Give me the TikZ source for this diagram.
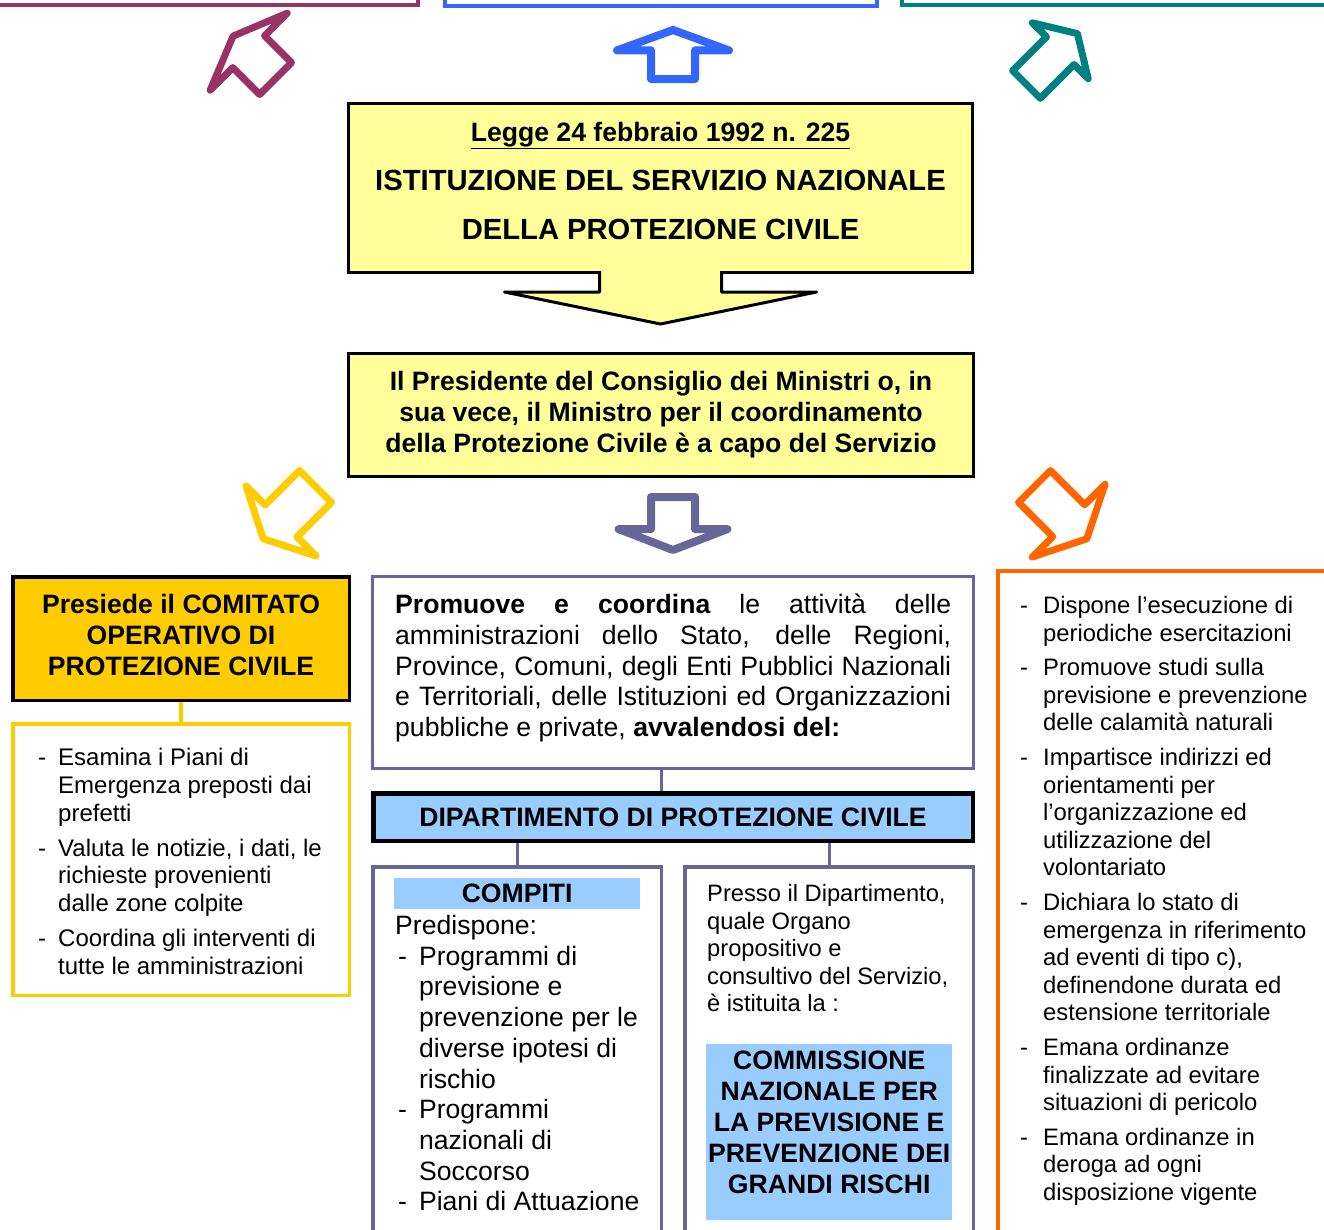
\documentclass[tikz,border=0pt]{standalone}
\usepackage{fontspec}
\setmainfont{Liberation Sans}
\usetikzlibrary{shapes.arrows,calc}

\definecolor{legfill}{HTML}{FFFF99}
\definecolor{comgold}{HTML}{FFCC00}
\definecolor{dipblue}{HTML}{99CCFF}
\definecolor{dipviolet}{HTML}{666699}
\definecolor{govorange}{HTML}{FF6600}
\definecolor{regmagenta}{HTML}{993366}
\definecolor{topblue}{HTML}{3366FF}
\definecolor{topteal}{HTML}{008080}

\begin{document}
\begin{tikzpicture}[x=1pt,y=-1pt,
  every node/.style={inner sep=0pt},
  box/.style={draw=black,line width=3pt,anchor=north west},
  topbox/.style={draw=#1,line width=4pt,anchor=south west,minimum height=60pt},
  textblk/.style={anchor=base west,inner sep=0pt},
  bigbold/.style={font=\bfseries\fontsize{26.6}{31}\selectfont},
  hollow/.style={shape=single arrow,draw=#1,fill=white,line width=7pt,line join=round,anchor=tail,inner xsep=0pt},
  link/.style={draw=dipviolet,line width=3pt}]
\fill[white] (0,0) rectangle (1324,1229);
\useasboundingbox (0,0) rectangle (1324,1229);
\clip (0,0) rectangle (1324,1229);
% Drawing the boxes cut off at the top
\node[topbox=regmagenta,minimum width=426pt] (regioni) at (-10,7) {};
\node[topbox=topblue,minimum width=432pt] (stato) at (443,8) {};
\node[topbox=topteal,minimum width=500pt] (enti) at (900,7) {};
% Arrows towards the top boxes
\node[hollow=regmagenta,rotate=135,minimum height=60pt,inner ysep=19pt,single arrow head extend=32pt,single arrow tip angle=136] (a-regioni) at (278,81) {};
\node[hollow=topblue,line width=8pt,rotate=90,minimum height=49pt,inner ysep=18pt,single arrow head extend=34pt,single arrow tip angle=140] (a-stato) at (673,83) {};
\node[hollow=topteal,rotate=45,minimum height=72pt,inner ysep=16pt,single arrow head extend=20pt,single arrow tip angle=117] (a-enti) at (1024,87) {};
% Legge box and its arrow
\node[box,fill=legfill,minimum width=624pt,minimum height=169pt] (legge) at (347,102) {};
\node[anchor=base,font=\bfseries\fontsize{29.2}{49}\selectfont] (legge-txt) at ($(legge.north)+(0,39.5)$)
  {\begin{tabular}[t]{@{}c@{}}{\fontsize{26.6}{49}\selectfont\underline{Legge 24 febbraio 1992 n. 225}}\\ISTITUZIONE DEL SERVIZIO NAZIONALE\\DELLA PROTEZIONE CIVILE\end{tabular}};
\filldraw[fill=legfill,draw=black,line width=3pt,line join=round] ($(legge.south)+(-61,-3)$) -- ++(0,21) -- ++(-95,0) -- ($(legge.south)+(0,50)$) -- ($(legge.south)+(156,18)$) -- ++(-95,0) -- ++(0,-21);
\node[box,fill=legfill,minimum width=625pt,minimum height=123pt,align=center,bigbold] (capo) at (347,352)
  {Il Presidente del Consiglio dei Ministri o, in\\sua vece, il Ministro per il coordinamento\\della Protezione Civile è a capo del Servizio};
% Arrows below the Presidente box
\node[hollow=comgold,rotate=225,minimum height=74pt,inner ysep=19pt,single arrow head extend=27pt,single arrow tip angle=126] (a-comitato) at (318,484) {};
\node[hollow=dipviolet,line width=8pt,rotate=-90,minimum height=53pt,inner ysep=18pt,single arrow head extend=32.5pt,single arrow tip angle=138] (a-promuove) at (673,493) {};
\node[hollow=govorange,rotate=-45,minimum height=74pt,inner ysep=19pt,single arrow head extend=29pt,single arrow tip angle=127] (a-esecutivo) at (1032,484) {};
% Left column
\node[box,fill=comgold,line width=3.5pt,minimum width=336.5pt,minimum height=123.5pt] (comitato) at (11,575) {};
\node[anchor=base,bigbold] (comitato-txt) at ($(comitato.north)+(0,38.5)$)
  {\begin{tabular}[t]{@{}c@{}}Presiede il COMITATO\\OPERATIVO DI\\PROTEZIONE CIVILE\end{tabular}};
\node[box,draw=comgold,line width=3.5pt,minimum width=336.5pt,minimum height=271.5pt] (esamina) at (11,722) {};
\node[textblk,font=\fontsize{24}{27.8}\selectfont] (esamina-txt) at ($(esamina.north west)+(27,43.6)$)
  {\begin{tabular}[t]{@{}l@{\hspace{12pt}}l@{}}
  - & Esamina i Piani di\\ & Emergenza preposti dai\\ & prefetti\\[7pt]
  - & Valuta le notizie, i dati, le\\ & richieste provenienti\\ & dalle zone colpite\\[7pt]
  - & Coordina gli interventi di\\ & tutte le amministrazioni
  \end{tabular}};
\draw[draw=comgold,line width=3.5pt] (comitato.south) -- (esamina.north);
% Middle column
\node[box,draw=dipviolet,minimum width=601pt,minimum height=192pt] (promuove) at (371,575) {};
\node[textblk] (promuove-txt) at ($(promuove.north west)+(24,38.5)$)
  {\parbox[t]{556pt}{\fontsize{26.6}{30.75}\selectfont\textbf{Promuove e coordina} le attività delle\linebreak
  amministrazioni dello Stato, delle Regioni,\linebreak
  Province, Comuni, degli Enti Pubblici Nazionali\linebreak
  e Territoriali, delle Istituzioni ed Organizzazioni\linebreak
  pubbliche e private, \textbf{avvalendosi del:}}};
\node[box,fill=dipblue,line width=4.5pt,minimum width=599.5pt,minimum height=47.5pt,bigbold] (dip) at (371,791) {DIPARTIMENTO DI PROTEZIONE CIVILE};
\draw[link] ([xshift=-12pt]promuove.south) -- ([xshift=-12pt]dip.north);
\node[box,draw=dipviolet,line width=3.5pt,minimum width=288.5pt,minimum height=400pt] (compiti) at (371,865) {};
\node[fill=dipblue,anchor=north west,minimum width=246pt,minimum height=31pt,bigbold] (compiti-head) at ($(compiti.north west)+(23,13)$) {COMPITI};
\node[textblk,font=\fontsize{26.6}{30.7}\selectfont] (compiti-txt) at ($(compiti.north west)+(24,69.5)$)
  {\begin{tabular}[t]{@{\hspace{3pt}}l@{\hspace{12pt}}l@{}}
  \multicolumn{2}{@{}l@{}}{Predispone:}\\
  - & Programmi di\\ & previsione e\\ & prevenzione per le\\ & diverse ipotesi di\\ & rischio\\
  - & Programmi\\ & nazionali di\\ & Soccorso\\
  - & Piani di Attuazione
  \end{tabular}};
\node[box,draw=dipviolet,line width=3.5pt,minimum width=288.5pt,minimum height=400pt] (presso) at (683,865) {};
\node[textblk,font=\fontsize{23.7}{27.5}\selectfont] (presso-txt) at ($(presso.north west)+(24,36.5)$)
  {\begin{tabular}[t]{@{}l@{}}Presso il Dipartimento,\\quale Organo\\propositivo e\\consultivo del Servizio,\\è istituita la :\end{tabular}};
\node[fill=dipblue,anchor=north west,minimum width=246pt,minimum height=176pt] (cnpgr) at (706,1044) {};
\node[anchor=base,bigbold] (cnpgr-txt) at ($(cnpgr.north)+(0,25.5)$)
  {\begin{tabular}[t]{@{}c@{}}COMMISSIONE\\NAZIONALE PER\\LA PREVISIONE E\\PREVENZIONE DEI\\GRANDI RISCHI\end{tabular}};
\draw[link] (dip.south -| compiti.north) -- (compiti.north);
\draw[link] (dip.south -| presso.north) -- (presso.north);
% Right column
\node[box,draw=govorange,line width=4pt,minimum width=400pt,minimum height=700pt] (esecutivo) at (996,569) {};
\node[textblk,font=\fontsize{23.8}{27.6}\selectfont] (esecutivo-txt) at ($(esecutivo.north west)+(24,44.5)$)
  {\begin{tabular}[t]{@{}l@{\hspace{15pt}}l@{}}
  - & Dispone l’esecuzione di\\ & periodiche esercitazioni\\[7pt]
  - & Promuove studi sulla\\ & previsione e prevenzione\\ & delle calamità naturali\\[7pt]
  - & Impartisce indirizzi ed\\ & orientamenti per\\ & l’organizzazione ed\\ & utilizzazione del\\ & volontariato\\[7pt]
  - & Dichiara lo stato di\\ & emergenza in riferimento\\ & ad eventi di tipo c),\\ & definendone durata ed\\ & estensione territoriale\\[7pt]
  - & Emana ordinanze\\ & finalizzate ad evitare\\ & situazioni di pericolo\\[7pt]
  - & Emana ordinanze in\\ & deroga ad ogni\\ & disposizione vigente
  \end{tabular}};
\end{tikzpicture}
\end{document}
